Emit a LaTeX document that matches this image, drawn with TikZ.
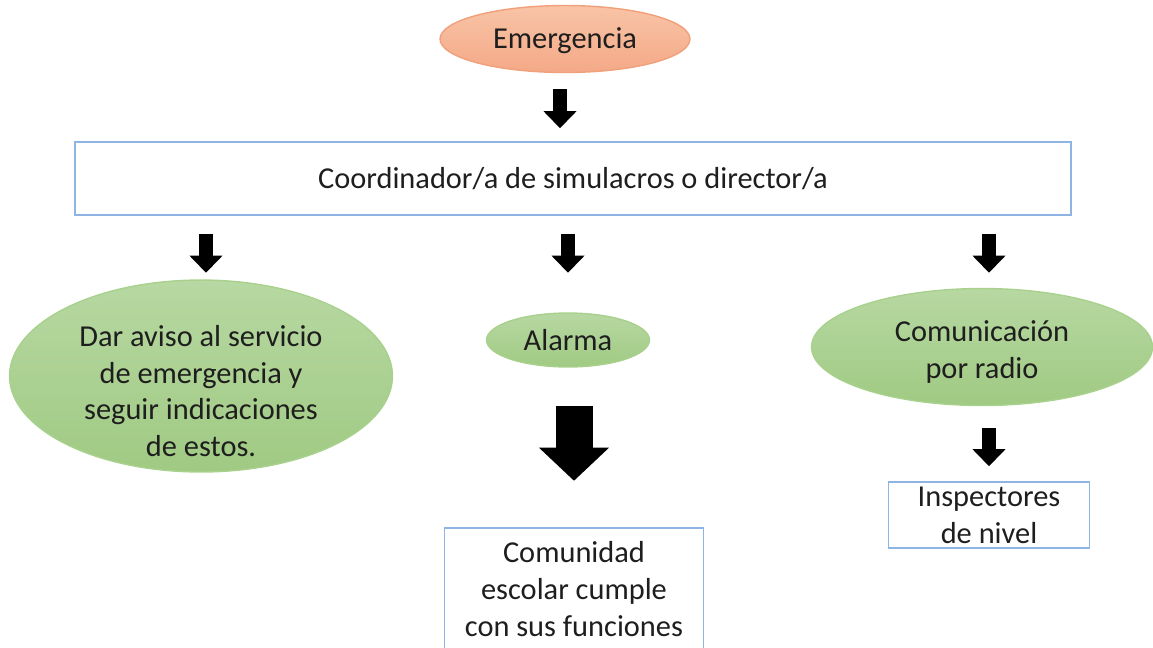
\documentclass[tikz,border=0pt]{standalone}
\usepackage{fontspec}
\setmainfont{Carlito}
\usepackage{tikz}
\usetikzlibrary{arrows.meta, positioning, shapes.geometric}
\usepackage{xcolor}
\definecolor{salmontop}{HTML}{F8C4A6}
\definecolor{salmonbot}{HTML}{F4A987}
\definecolor{salmonline}{HTML}{F0A07A}
\definecolor{greentop}{HTML}{B7D8A2}
\definecolor{greenbot}{HTML}{A0CA83}
\definecolor{greenline}{HTML}{A9D18E}
\definecolor{boxblue}{HTML}{8DB4E2}
\definecolor{textgray}{HTML}{1E1E1E}

\begin{document}
\begin{tikzpicture}[x=0.02cm, y=-0.02cm,
        every node/.style={font=\fontsize{17.3}{20.9}\selectfont, text=textgray, align=center, inner sep=0pt},
        oval/.style={ellipse, draw=greenline, line width=0.8pt, top color=greentop, bottom color=greenbot},
        box/.style={rectangle, draw=boxblue, line width=0.8pt, fill=white},
        blk/.style={line width=0.28cm, -{Triangle[width=0.66cm, length=0.34cm, line width=0pt]}},
        bigblk/.style={line width=0.74cm, -{Triangle[width=1.4cm, length=0.66cm, line width=0pt]}}]
        \useasboundingbox (0,0) rectangle (1153,647);

        \node[ellipse, draw=salmonline, line width=0.8pt, top color=salmontop, bottom color=salmonbot,
            minimum width=5cm, minimum height=1.34cm] (emer) at (565,39) {};
        \node (emertxt) at (565,41) {Emergencia};
        \node[box, minimum width=19.92cm, minimum height=1.46cm] (coord) at (573,178.5)
            {Coordinador/a de simulacros o director/a};

        \node[oval, minimum width=7.66cm, minimum height=3.84cm] (dar) at (201,376) {};
        \node (dartxt) at (201,391) {Dar aviso al servicio\\de emergencia y\\seguir indicaciones\\de estos.};
        \node[oval, minimum width=3.26cm, minimum height=1.08cm] (alarma) at (568,340) {Alarma};
        \node[oval, minimum width=6.82cm, minimum height=2.34cm] (radio) at (982,347) {};
        \node (radiotxt) at (982,352) {Comunicación\\por radio};

        \node[box, minimum width=5.18cm, minimum height=2.52cm] (comun) at (574,591) {};
        \node (comuntxt) at (574,589) {Comunidad\\escolar cumple\\con sus funciones};
        \node[box, minimum width=4.02cm, minimum height=1.32cm] (insp) at (989,515) {Inspectores\\de nivel};

        \draw[blk] (emer.south) ++(-5,16) -- ++(0,39);
        \draw[blk] (coord.south -| dar.north) ++(5,18) -- ++(0,39);
        \draw[blk] (coord.south -| alarma.north) ++(0,18) -- ++(0,39);
        \draw[blk] (coord.south -| radio.north) ++(7,18) -- ++(0,39);
        \draw[bigblk] (alarma.south) ++(6,38) -- ++(0,75);
        \draw[blk] (radio.south) ++(7,22) -- ++(0,38);

    \end{tikzpicture}
\end{document}
